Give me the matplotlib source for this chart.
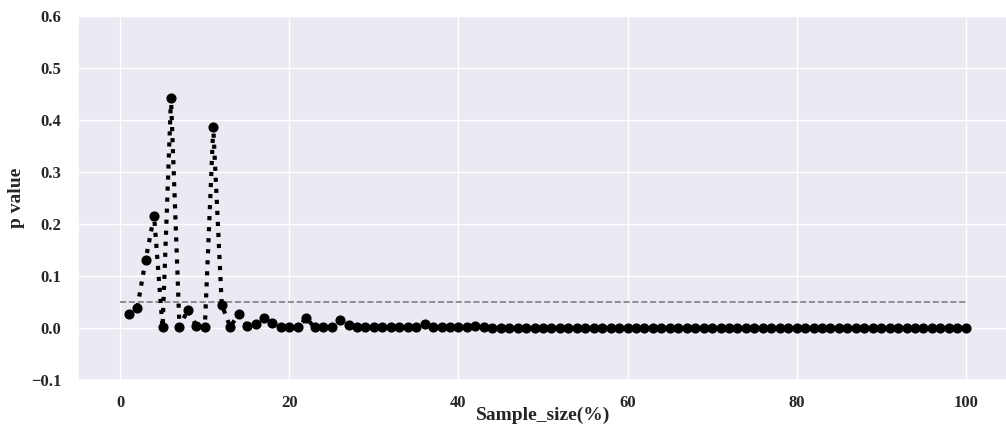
import matplotlib
matplotlib.use("Agg")
import matplotlib.pyplot as plt
import numpy as np
import seaborn as sns

sample_size = list(range(1, 101))
head_values = [
    0.027, 0.038, 0.131, 0.216, 0.001, 0.442, 0.002, 0.035, 0.004, 0.001,
    0.386, 0.045, 0.002, 0.027, 0.004, 0.008, 0.019, 0.010, 0.001, 0.001,
    0.001, 0.019, 0.001, 0.002, 0.001, 0.016, 0.006, 0.001, 0.001, 0.001,
    0.001, 0.001, 0.001, 0.001, 0.001, 0.008, 0.001, 0.001, 0.001, 0.001,
    0.001, 0.003, 0.001,
]
p_values = head_values + [0.0] * (len(sample_size) - len(head_values))
threshold = 0.05
y_ticks = [-0.1, 0.0, 0.1, 0.2, 0.3, 0.4, 0.5, 0.6]
x_ticks = [0, 20, 40, 60, 80, 100]

sns.set_theme(style="darkgrid")
plt.rcParams["font.family"] = ["Liberation Serif", "DejaVu Serif"]

fig = plt.figure(figsize=(10.06, 4.41), dpi=100)
ax = fig.add_axes([78 / 1006, 61 / 441, 930 / 1006, 364 / 441])

ax.plot(sample_size, p_values, linestyle=":", linewidth=3, color="black",
        marker="o", markersize=6.3, markerfacecolor="black",
        markeredgecolor="black", zorder=3)
ax.hlines(threshold, 0, 100, colors="grey", linestyles="--", linewidth=1.2, zorder=2)

ax.set_xlim(-5, 105)
ax.set_ylim(-0.1, 0.6)
ax.set_xticks(x_ticks)
ax.set_yticks(y_ticks)
ax.set_yticklabels([f"{t:.1f}".replace("-", "\u2212") for t in y_ticks])
for lab in ax.get_xticklabels() + ax.get_yticklabels():
    lab.set_fontweight("bold")
    lab.set_fontsize(12)
ax.tick_params(axis="x", pad=5)
ax.tick_params(axis="y", pad=6)
ax.set_xlabel("Sample_size(%)", fontsize=14, fontweight="bold", labelpad=-3)
ax.set_ylabel("p value", fontsize=14, fontweight="bold", labelpad=4)

fig.savefig("out.png", dpi=100)
